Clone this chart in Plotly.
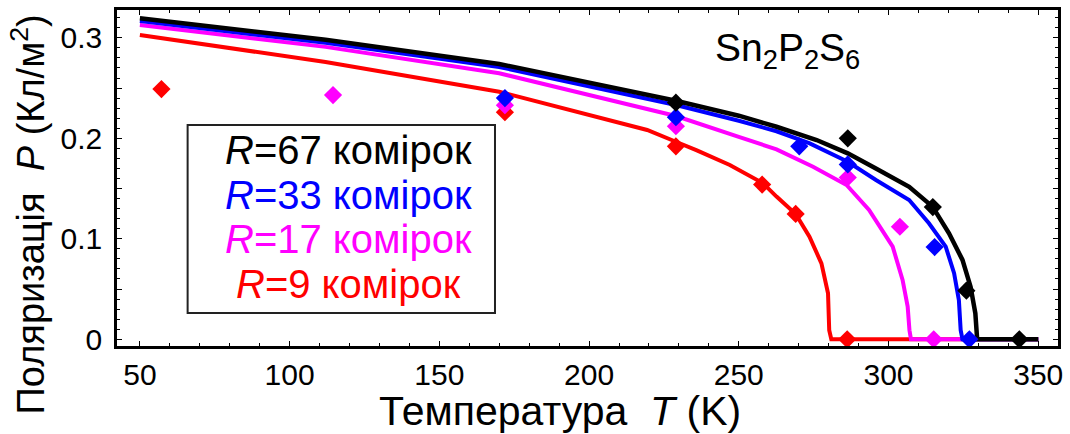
import plotly.graph_objects as go

# ---- model curves P(T) for different cluster sizes ----
T_67 = [50, 112, 170, 229, 250, 262.6, 276, 286.4, 295.8, 306.9, 314.7, 320.2, 324.7, 327.4, 329.0, 329.6, 350]
P_67 = [0.3194, 0.298, 0.274, 0.2374, 0.2225, 0.2115, 0.1983, 0.185, 0.170, 0.1518, 0.132, 0.1055, 0.079, 0.0523, 0.0259, 0.0, 0.0]

T_33 = [50, 112, 170, 229, 250, 262.6, 273.7, 286.4, 295.8, 306.9, 313.5, 319.1, 321.9, 323.5, 324.1, 324.7, 350]
P_33 = [0.3167, 0.295, 0.271, 0.2331, 0.2175, 0.207, 0.195, 0.1767, 0.1585, 0.1386, 0.1154, 0.0922, 0.0657, 0.039, 0.009, 0.0, 0.0]

T_17 = [50, 112, 170, 229, 250, 262.6, 274.8, 286.0, 293.5, 301.4, 304.7, 306.4, 307.0, 307.5, 350]
P_17 = [0.3127, 0.291, 0.2647, 0.2222, 0.2015, 0.189, 0.1717, 0.1535, 0.1287, 0.0922, 0.059, 0.0325, 0.009, 0.0, 0.0]

T_9 = [50, 112, 170, 202, 219.4, 229, 236, 247, 258, 262.6, 269.0, 273.6, 277.6, 279.8, 280.2, 280.9, 350]
P_9 = [0.3028, 0.276, 0.2464, 0.2217, 0.2083, 0.1966, 0.188, 0.1734, 0.1555, 0.142, 0.1247, 0.102, 0.0756, 0.0458, 0.009, 0.0, 0.0]

# ---- simulated points ----
Tm_67 = [229, 286.4, 314.8, 326.0, 343.7]
Pm_67 = [0.2355, 0.200, 0.1316, 0.0484, 0.0]

Tm_33 = [171.9, 229, 270.2, 286.4, 315.4, 327.0]
Pm_33 = [0.240, 0.221, 0.192, 0.174, 0.0918, 0.0]

Tm_17 = [114.5, 171.9, 229, 286.4, 303.8, 315.1]
Pm_17 = [0.243, 0.233, 0.212, 0.161, 0.112, 0.0]

Tm_9 = [57.2, 171.9, 229, 257.8, 269.0, 286.2]
Pm_9 = [0.249, 0.226, 0.192, 0.154, 0.1247, 0.0]

legend_labels = ["<i>R</i>=67 комірок", "<i>R</i>=33 комірок",
                 "<i>R</i>=17 комірок", "<i>R</i>=9 комірок"]

x_ticks = [50, 100, 150, 200, 250, 300, 350]
y_ticks = [0, 0.1, 0.2, 0.3]
y_ticktext = ["0", "0.1", "0.2", "0.3"]
y_half_ticks = [0.05, 0.15, 0.25]

FONT = "Liberation Sans, Arial, sans-serif"
BLACK, BLUE, MAGENTA, RED = "#000000", "#0000ff", "#ff00ff", "#ff0000"

fig = go.Figure()

# lines drawn red first so the larger clusters lie on top along P = 0
for T, P, c, w in [(T_9, P_9, RED, 4), (T_17, P_17, MAGENTA, 4),
                   (T_33, P_33, BLUE, 4), (T_67, P_67, BLACK, 4.5)]:
    fig.add_trace(go.Scatter(x=T, y=P, mode="lines", line=dict(color=c, width=w),
                             showlegend=False, hoverinfo="skip"))

for T, P, c in [(Tm_9, Pm_9, RED), (Tm_17, Pm_17, MAGENTA), (Tm_33, Pm_33, BLUE), (Tm_67, Pm_67, BLACK)]:
    fig.add_trace(go.Scatter(x=T, y=P, mode="markers",
                             marker=dict(symbol="diamond", size=14, color=c, line=dict(width=0)),
                             showlegend=False))

X0, X1 = 42.36, 356.6
Y0, Y1 = -0.0067, 0.3277
L, R, TOP, BOT = 117, 7, 10, 88
W, H = 1070, 434
pw, ph = W - L - R, H - TOP - BOT

def px(x):
    return (x - L) / pw

def py(y):
    return (H - BOT - y) / ph

# legend box
fig.add_shape(type="rect", xref="paper", yref="paper",
              x0=px(188), x1=px(497), y0=py(313), y1=py(125),
              line=dict(color="#222222", width=2), fillcolor="rgba(0,0,0,0)")
for i, (txt, c) in enumerate(zip(legend_labels, [BLACK, BLUE, MAGENTA, RED])):
    fig.add_annotation(text=txt, xref="paper", yref="paper", x=px(350), y=py(150 + 44.7 * i),
                       xanchor="center", yanchor="middle", showarrow=False,
                       font=dict(family=FONT, size=40, color=c))

fig.add_annotation(text="Sn<sub>2</sub>P<sub>2</sub>S<sub>6</sub>", xref="paper", yref="paper",
                   x=px(791), y=py(50), xanchor="center", yanchor="middle", showarrow=False,
                   font=dict(family=FONT, size=39, color=BLACK))

# axis titles
fig.add_annotation(text="Температура  <i>T</i> (K)", xref="paper", yref="paper",
                   x=px(562), y=py(411), xanchor="center", yanchor="middle", showarrow=False,
                   font=dict(family=FONT, size=41, color=BLACK))
fig.add_annotation(text="Поляризація  <i>P</i> (Кл/м<sup>2</sup>)", xref="paper", yref="paper",
                   x=px(28), y=py(214), xanchor="center", yanchor="middle", showarrow=False,
                   textangle=-90, font=dict(family=FONT, size=38, color=BLACK))

axis_common = dict(showgrid=False, zeroline=False, showline=True, linecolor=BLACK, linewidth=2.5,
                   mirror="ticks", ticks="inside", tickcolor=BLACK, tickwidth=1.2, ticklen=5,
                   tickfont=dict(family=FONT, size=30, color=BLACK))

fig.update_layout(
    width=W, height=H, margin=dict(l=L, r=R, t=TOP, b=BOT),
    plot_bgcolor="white", paper_bgcolor="white", showlegend=False,
    font=dict(family=FONT, color=BLACK),
    xaxis=dict(range=[X0, X1], tickmode="array", tickvals=x_ticks,
               minor=dict(dtick=10, tick0=50, ticks="inside", ticklen=3, tickcolor=BLACK, tickwidth=1),
               **axis_common),
    yaxis=dict(range=[Y0, Y1], tickmode="array", tickvals=y_ticks, ticktext=y_ticktext,
               ticklabelstandoff=6,
               minor=dict(dtick=0.01, tick0=0, ticks="inside", ticklen=3, tickcolor=BLACK, tickwidth=1),
               **axis_common),
    # unlabeled mid-step ticks at 0.05, 0.15, 0.25
    yaxis2=dict(range=[Y0, Y1], overlaying="y", side="left", tickmode="array", tickvals=y_half_ticks,
                showticklabels=False, showgrid=False, zeroline=False, showline=False,
                mirror="ticks", ticks="inside", tickcolor=BLACK, tickwidth=1.2, ticklen=5),
)

# invisible carrier so the overlay axis is drawn
fig.add_trace(go.Scatter(x=[X0], y=[Y0], yaxis="y2", mode="markers",
                         marker=dict(opacity=0), showlegend=False, hoverinfo="skip"))

fig.write_html("out.html")
